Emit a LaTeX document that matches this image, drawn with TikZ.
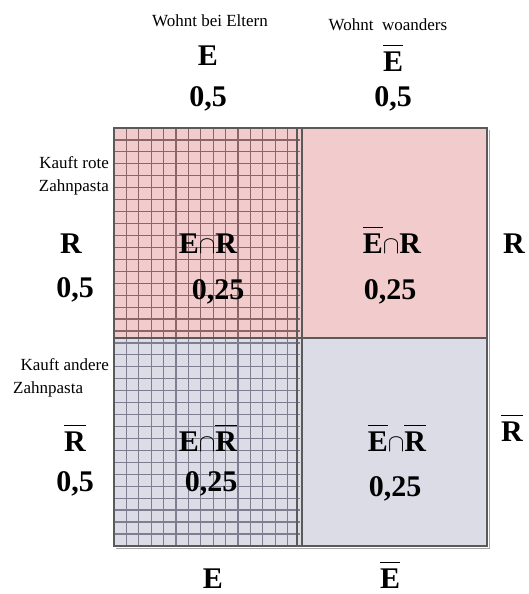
\documentclass[tikz,border=0pt]{standalone}
\usepackage{fontspec}
\setmainfont{Liberation Serif}
\usepackage{tikz}
\usetikzlibrary{positioning}
\definecolor{rotpink}{HTML}{F2CCCC}
\definecolor{andlila}{HTML}{DCDCE7}
\definecolor{rotgitter}{HTML}{8A6668}
\definecolor{lilagitter}{HTML}{7E7E90}
\definecolor{rand}{HTML}{5A5A5A}
\newcommand{\ovl}[1]{$\overline{\mbox{\rule{0pt}{0.8em}#1}}$}

\begin{document}
\begin{tikzpicture}[x=1pt,y=-1pt,
  big/.style={font=\bfseries\fontsize{30}{32}\selectfont,inner sep=0pt,anchor=base},
  small/.style={font=\fontsize{17}{20}\selectfont,inner sep=0pt,align=right},
  gridline/.style={line width=1.2pt}]
\useasboundingbox (0,0) rectangle (529,594);
% Felder
\fill[rotpink] (114,128) rectangle (487,338);
\fill[andlila] (114,338) rectangle (487,546);
\foreach \i in {1,...,14}{
  \draw[gridline,rotgitter] ({114+\i*12.4},128) -- ({114+\i*12.4},338);
  \draw[gridline,lilagitter] ({114+\i*12.4},338) -- ({114+\i*12.4},546);}
\foreach \j in {1,...,17}
  \draw[gridline,rotgitter] (114,{128+\j*11.94}) -- (300,{128+\j*11.94});
\foreach \j in {18,...,34}
  \draw[gridline,lilagitter] (114,{128+\j*11.94}) -- (300,{128+\j*11.94});
\draw[rand,line width=1.3pt] (297,128) -- (297,546);
\draw[rand,line width=1.3pt] (302,128) -- (302,546);
\draw[rand,line width=1.5pt] (114,338) -- (487,338);
\draw[rand,line width=1.5pt] (114,546) rectangle (487,128);
\draw[black!35,line width=1pt] (489,130) -- (489,548) -- (116,548);
% oben
\node[small,anchor=base] (eltern) at (210,27) {Wohnt bei Eltern};
\node[small,anchor=base] (woanders) at (388,31) {Wohnt\ \ woanders};
\node[big] (eoben) at (208,66) {E};
\node[big] (eoben5) at (208,106) {0,5};
\node[big] (ebaroben) at (393,71) {\ovl{E}};
\node[big] (ebaroben5) at (393,106) {0,5};
% links
\node[small,anchor=base east] (rot1) at (109,168) {Kauft rote};
\node[small,anchor=base east] (rot2) at (109,191) {Zahnpasta};
\node[big] (rlinks) at (71,253) {R};
\node[big] (rlinks5) at (75,297) {0,5};
\node[small,anchor=base east] (and1) at (109,370) {Kauft andere};
\node[small,anchor=base west] (and2) at (13,393) {Zahnpasta};
\node[big] (rbarlinks) at (75,451) {\ovl{R}};
\node[big] (rbarlinks5) at (75,491) {0,5};
% rechts
\node[big] (rrechts) at (514,253) {R};
\node[big] (rbarrechts) at (512,441) {\ovl{R}};
% Zellen
\node[big] (er) at (208,253) {E$\cap$R};
\node[big] (er5) at (218,299) {0,25};
\node[big] (ebarr) at (392,253) {\ovl{E}$\cap$R};
\node[big] (ebarr5) at (390,299) {0,25};
\node[big] (erbar) at (208,451) {E$\cap$\ovl{R}};
\node[big] (erbar5) at (211,491) {0,25};
\node[big] (ebarrbar) at (397,451) {\ovl{E}$\cap$\ovl{R}};
\node[big] (ebarrbar5) at (395,496) {0,25};
% unten
\node[big] (eunten) at (213,588) {E};
\node[big] (ebarunten) at (390,588) {\ovl{E}};
\end{tikzpicture}
\end{document}
